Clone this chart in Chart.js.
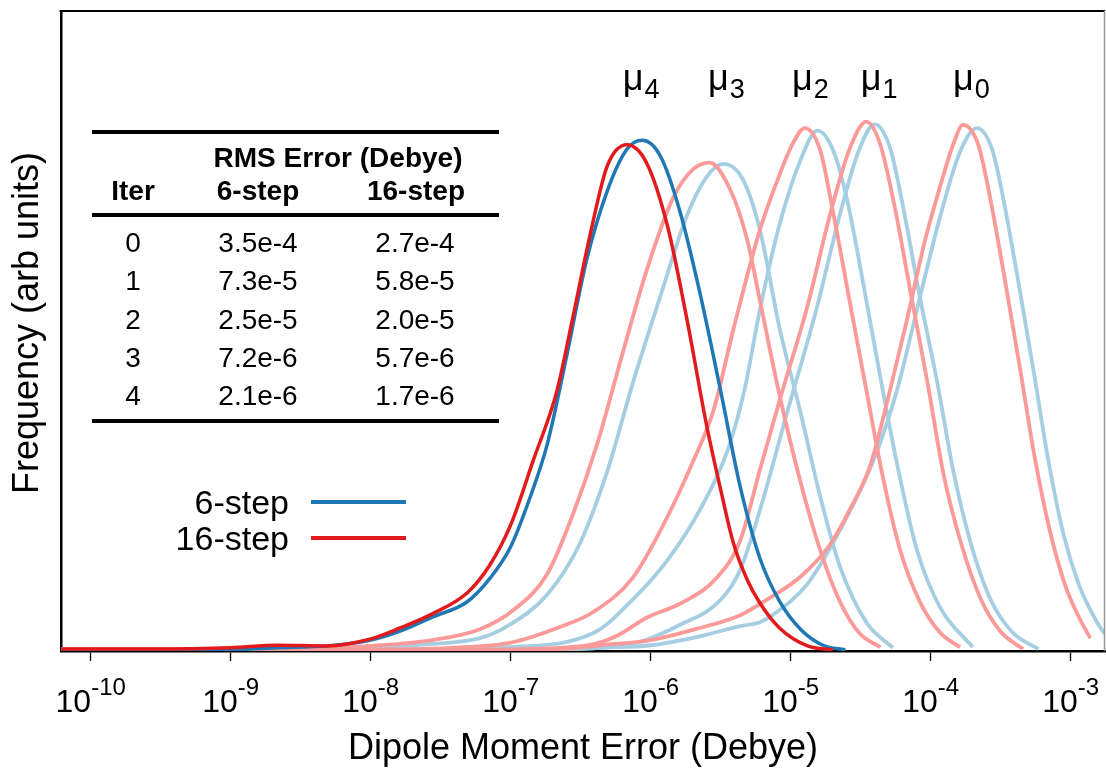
<!DOCTYPE html>
<html>
<head>
<meta charset="utf-8">
<title>Dipole Moment Error</title>
<script src="https://cdn.jsdelivr.net/npm/chart.js@4.4.0/dist/chart.umd.min.js"></script>
<style>
  html, body { margin: 0; padding: 0; background: #fff; }
  #wrap { width: 1106px; height: 768px; position: relative; }
</style>
</head>
<body>
<div id="wrap"><canvas id="grafico"></canvas></div>
<script>
//Eje x: exponentes (log10 del error en Debye)
const xMinExp = -10.212;
const xMaxExp = -2.755;
const tickExps = [-10, -9, -8, -7, -6, -5, -4, -3];

//Iteracion 4
const mu4_6_exp = [-10.21, -9.58, -9.00, -8.67, -8.31, -8.00, -7.79, -7.56, -7.31, -7.15, -7.00, -6.86, -6.74, -6.60, -6.46, -6.31, -6.17, -6.06, -5.93, -5.79, -5.65, -5.50, -5.36, -5.22, -5.08, -4.93, -4.77, -4.61];
const mu4_6_freq = [0.2, 0.2, 0.2, 0.5, 0.8, 1.7, 3.1, 5.3, 7.7, 11.3, 16.3, 24.1, 32.2, 46.1, 60.9, 71.9, 78.4, 79.8, 77.3, 68.6, 56.1, 40.6, 25.6, 14.5, 7.8, 3.4, 0.9, 0.2];
const mu4_16_exp = [-10.21, -9.58, -9.00, -8.67, -8.31, -8.00, -7.79, -7.56, -7.31, -7.15, -7.00, -6.84, -6.67, -6.56, -6.43, -6.31, -6.17, -6.03, -5.88, -5.74, -5.60, -5.50, -5.41, -5.31, -5.22, -5.08, -4.88, -4.70];
const mu4_16_freq = [0.3, 0.3, 0.5, 0.9, 0.8, 1.9, 3.6, 5.8, 9.1, 13.4, 19.7, 29.7, 40.6, 51.7, 65.3, 75.8, 79.1, 76.3, 66.4, 51.7, 35.2, 25.2, 16.9, 11.1, 7.5, 3.6, 0.8, 0.2];

//Iteracion 3
const mu3_6_exp = [-10.21, -8.51, -8.00, -7.56, -7.22, -7.03, -6.74, -6.51, -6.31, -6.13, -5.93, -5.74, -5.60, -5.48, -5.34, -5.22, -5.08, -4.93, -4.79, -4.65, -4.46, -4.27];
const mu3_6_freq = [0.2, 0.2, 0.5, 1.1, 2.0, 3.8, 8.8, 16.6, 28.1, 41.7, 55.5, 68.1, 74.1, 76.1, 73.6, 65.8, 50.5, 37.3, 24.2, 13.3, 4.5, 0.5];
const mu3_16_exp = [-10.21, -8.86, -8.29, -8.00, -7.56, -7.22, -6.98, -6.74, -6.56, -6.38, -6.22, -6.03, -5.84, -5.70, -5.58, -5.43, -5.31, -5.22, -5.08, -4.93, -4.79, -4.65, -4.51, -4.36];
const mu3_16_freq = [0.2, 0.2, 0.5, 0.8, 1.7, 3.4, 6.4, 12.0, 21.1, 32.5, 45.0, 59.4, 70.8, 75.2, 76.3, 72.0, 64.2, 54.8, 40.0, 26.4, 15.8, 7.8, 2.8, 0.6];

//Iteracion 2
const mu2_6_exp = [-10.21, -7.79, -7.03, -6.41, -6.13, -5.88, -5.65, -5.45, -5.33, -5.22, -5.08, -4.93, -4.81, -4.70, -4.60, -4.48, -4.36, -4.24, -4.10, -3.93, -3.70];
const mu2_6_freq = [0.2, 0.2, 0.6, 2.8, 8.0, 14.2, 22.0, 31.4, 40.8, 53.3, 66.6, 76.7, 81.3, 78.4, 70.8, 57.2, 42.8, 29.2, 15.9, 6.7, 0.6];
const mu2_16_exp = [-10.21, -8.15, -7.43, -7.00, -6.63, -6.41, -6.13, -5.91, -5.70, -5.55, -5.41, -5.22, -5.08, -4.98, -4.90, -4.79, -4.70, -4.58, -4.46, -4.34, -4.22, -4.08, -3.93, -3.79];
const mu2_16_freq = [0.2, 0.2, 0.5, 1.3, 3.9, 6.1, 11.4, 19.7, 29.5, 37.7, 50.2, 65.8, 74.4, 79.5, 81.7, 78.3, 68.9, 54.8, 40.8, 27.0, 15.9, 7.8, 2.8, 0.6];

//Iteracion 1
const mu1_6_exp = [-10.21, -7.08, -6.36, -6.08, -5.79, -5.50, -5.36, -5.22, -5.03, -4.81, -4.65, -4.51, -4.40, -4.29, -4.20, -4.08, -3.95, -3.84, -3.72, -3.58, -3.42, -3.23];
const mu1_6_freq = [0.2, 0.2, 0.5, 1.4, 4.1, 8.0, 12.7, 22.0, 36.9, 53.9, 68.1, 78.4, 82.3, 78.6, 69.7, 55.6, 41.6, 28.3, 17.3, 8.4, 3.0, 0.3];
const mu1_16_exp = [-10.21, -7.43, -6.65, -6.40, -6.23, -6.03, -5.78, -5.53, -5.36, -5.22, -5.08, -4.88, -4.72, -4.58, -4.46, -4.36, -4.26, -4.14, -4.02, -3.91, -3.78, -3.64, -3.50, -3.34];
const mu1_16_freq = [0.2, 0.2, 0.5, 1.1, 2.5, 5.2, 7.5, 11.4, 17.3, 28.3, 39.1, 53.9, 68.1, 78.4, 82.7, 79.1, 69.7, 55.6, 41.6, 27.8, 16.6, 8.0, 3.0, 0.3];

//Iteracion 0
const mu0_6_exp = [-10.21, -6.65, -6.36, -6.00, -5.65, -5.36, -5.22, -5.13, -4.88, -4.65, -4.41, -4.24, -4.08, -3.93, -3.79, -3.67, -3.56, -3.48, -3.37, -3.26, -3.16, -3.05, -2.94, -2.83, -2.76, -2.70];
const mu0_6_freq = [0.2, 0.2, 0.5, 0.9, 2.3, 3.9, 4.5, 5.6, 10.5, 18.8, 29.7, 40.8, 55.0, 68.1, 78.0, 81.7, 78.3, 70.5, 57.2, 43.1, 29.8, 18.1, 10.3, 5.2, 2.8, 1.7];
const mu0_16_exp = [-10.21, -6.72, -6.36, -6.00, -5.65, -5.36, -5.15, -4.93, -4.72, -4.58, -4.43, -4.29, -4.17, -4.04, -3.93, -3.84, -3.77, -3.66, -3.58, -3.47, -3.36, -3.26, -3.15, -3.04, -2.93, -2.86];
const mu0_16_freq = [0.2, 0.2, 0.9, 1.7, 3.6, 5.6, 8.3, 11.6, 16.6, 22.0, 29.1, 40.8, 51.7, 64.2, 72.8, 79.1, 82.2, 79.1, 71.3, 58.0, 43.9, 30.6, 18.9, 10.3, 4.8, 2.0];

//Etiquetas mu sobre los picos
const muSub = ['4', '3', '2', '1', '0'];
const muExp = [-6.20, -5.59, -4.99, -4.50, -3.84];
const muLevel = 87.7;

//Tabla RMS
const iterNum = ['0', '1', '2', '3', '4'];
const rms6 = ['3.5e-4', '7.3e-5', '2.5e-5', '7.2e-6', '2.1e-6'];
const rms16 = ['2.7e-4', '5.8e-5', '2.0e-5', '5.7e-6', '1.7e-6'];

//Leyenda
const legendNames = ['6-step', '16-step'];

//Colores
const azul = '#1f78b4';
const rojo = '#e31a1c';
const azulClaro = '#a6cee3';
const rosa = '#fb9a99';
const legendColors = [azul, rojo];

const FONT = '"Liberation Sans", Arial, Helvetica, sans-serif';

function puntos(exps, freqs) {
    return exps.map((e, i) => ({ x: Math.pow(10, e), y: freqs[i] }));
}

function serie(label, exps, freqs, color, width) {
    return {
        label: label,
        data: puntos(exps, freqs),
        borderColor: color,
        borderWidth: width,
        pointRadius: 0,
        fill: false,
        cubicInterpolationMode: 'monotone'
    };
}

//El primer dataset se dibuja encima
const datasets = [
    serie('16-step mu4', mu4_16_exp, mu4_16_freq, rojo, 3.5),
    serie('6-step mu4', mu4_6_exp, mu4_6_freq, azul, 3.5),
    serie('16-step mu3', mu3_16_exp, mu3_16_freq, rosa, 3.8),
    serie('16-step mu2', mu2_16_exp, mu2_16_freq, rosa, 3.8),
    serie('16-step mu1', mu1_16_exp, mu1_16_freq, rosa, 3.8),
    serie('16-step mu0', mu0_16_exp, mu0_16_freq, rosa, 3.8),
    serie('6-step mu3', mu3_6_exp, mu3_6_freq, azulClaro, 3.8),
    serie('6-step mu2', mu2_6_exp, mu2_6_freq, azulClaro, 3.8),
    serie('6-step mu1', mu1_6_exp, mu1_6_freq, azulClaro, 3.8),
    serie('6-step mu0', mu0_6_exp, mu0_6_freq, azulClaro, 3.8)
];

//Plugin para marco, etiquetas, tabla y leyenda
const extras = {
    id: 'extras',
    afterDraw(chart) {
        const ctx = chart.ctx;
        const area = chart.chartArea;
        const sx = chart.scales.x;
        const sy = chart.scales.y;
        ctx.save();

        //marco superior y derecho
        ctx.strokeStyle = '#000';
        ctx.lineWidth = 2;
        ctx.beginPath();
        ctx.moveTo(area.left - 1.5, area.top);
        ctx.lineTo(area.right, area.top);
        ctx.stroke();
        ctx.strokeStyle = '#999';
        ctx.lineWidth = 1.5;
        ctx.beginPath();
        ctx.moveTo(area.right - 0.5, area.top);
        ctx.lineTo(area.right - 0.5, area.bottom);
        ctx.stroke();

        //etiquetas del eje x con superindice
        ctx.fillStyle = '#000';
        ctx.textBaseline = 'alphabetic';
        ctx.textAlign = 'left';
        tickExps.forEach(e => {
            const px = sx.getPixelForValue(Math.pow(10, e));
            ctx.font = '32px ' + FONT;
            const wBase = ctx.measureText('10').width;
            ctx.font = '24px ' + FONT;
            const txt = String(e);
            const wExp = ctx.measureText(txt).width;
            const left = px - (wBase + wExp) / 2;
            ctx.font = '32px ' + FONT;
            ctx.fillText('10', left, 712);
            ctx.font = '24px ' + FONT;
            ctx.fillText(txt, left + wBase, 695);
        });

        //titulos de ejes
        ctx.font = '36px ' + FONT;
        ctx.textAlign = 'center';
        ctx.fillText('Dipole Moment Error (Debye)', (area.left + area.right) / 2, 759);
        ctx.save();
        ctx.translate(38, 323);
        ctx.rotate(-Math.PI / 2);
        ctx.fillText('Frequency (arb units)', 0, 0);
        ctx.restore();

        //etiquetas mu
        ctx.textAlign = 'left';
        const py = sy.getPixelForValue(muLevel);
        muSub.forEach((s, i) => {
            const px = sx.getPixelForValue(Math.pow(10, muExp[i]));
            ctx.font = '36px ' + FONT;
            ctx.fillText('\u03bc', px, py);
            const w = ctx.measureText('\u03bc').width;
            ctx.font = '27px ' + FONT;
            ctx.fillText(s, px + w + 1, py + 8);
        });

        //tabla
        ctx.fillStyle = '#000';
        ctx.fillRect(92, 130, 407, 4);
        ctx.fillRect(92, 213, 407, 4);
        ctx.fillRect(92, 419, 407, 4);
        ctx.textAlign = 'center';
        ctx.font = 'bold 28px ' + FONT;
        ctx.fillText('RMS Error (Debye)', 338, 167);
        ctx.fillText('Iter', 133, 200);
        ctx.fillText('6-step', 258, 200);
        ctx.fillText('16-step', 416, 200);
        ctx.font = '28px ' + FONT;
        iterNum.forEach((it, i) => {
            const y = 252 + i * 38.3;
            ctx.fillText(it, 133, y);
            ctx.fillText(rms6[i], 258, y);
            ctx.fillText(rms16[i], 415, y);
        });

        //leyenda
        ctx.textAlign = 'right';
        ctx.font = '34px ' + FONT;
        legendNames.forEach((n, i) => {
            const y = 502 + i * 36;
            ctx.fillStyle = '#000';
            ctx.fillText(n, 289, y + 12);
            ctx.strokeStyle = legendColors[i];
            ctx.lineWidth = 4;
            ctx.beginPath();
            ctx.moveTo(311, y);
            ctx.lineTo(406, y);
            ctx.stroke();
        });

        ctx.restore();
    }
};

const grafico = new Chart(document.getElementById('grafico'), {
    type: 'line',
    data: { datasets: datasets },
    options: {
        responsive: true,
        maintainAspectRatio: false,
        animation: false,
        devicePixelRatio: 1,
        layout: { padding: { top: 11, right: 1, left: 0, bottom: 0 } },
        plugins: {
            legend: { display: false },
            tooltip: { enabled: false }
        },
        scales: {
            x: {
                type: 'logarithmic',
                min: Math.pow(10, xMinExp),
                max: Math.pow(10, xMaxExp),
                afterBuildTicks: s => { s.ticks = tickExps.map(e => ({ value: Math.pow(10, e) })); },
                afterFit: s => { s.height = 117; },
                ticks: { display: false },
                grid: { drawOnChartArea: false, drawTicks: true, tickLength: 10, tickColor: '#000', tickWidth: 1.3 },
                border: { color: '#000', width: 2.5 }
            },
            y: {
                min: 0,
                max: 100,
                afterFit: s => { s.width = 61; },
                ticks: { display: false },
                grid: { display: false },
                border: { color: '#000', width: 2.5 }
            }
        }
    },
    plugins: [extras]
});
</script>
</body>
</html>
